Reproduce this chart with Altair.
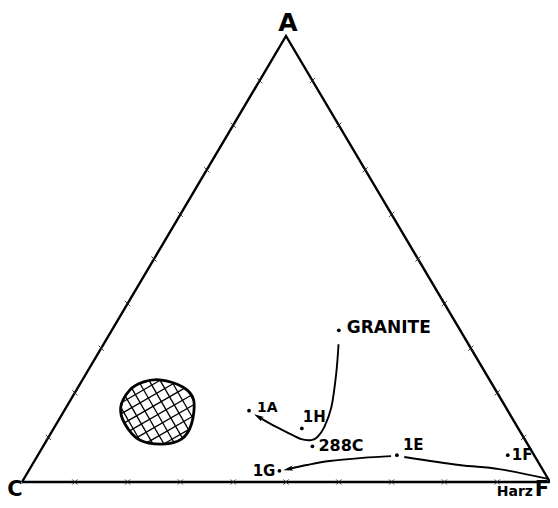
import math
import altair as alt
import pandas as pd

# ---------------- data (ternary percentages: A = apex, C = left, F = right) -------------
point_labels = ["GRANITE", "1A", "1H", "288C", "1E", "1G", "1F"]
point_A = [34.0, 16.0, 12.0, 8.0, 6.0, 2.5, 6.0]
point_C = [23.0, 49.0, 41.0, 41.0, 26.0, 50.0, 5.0]
point_F = [43.0, 35.0, 47.0, 51.0, 68.0, 47.5, 89.0]

# GRANITE -> 288C -> 1A trend (arrow)
curve1_A = [30.9, 24.2, 16.8, 12.3, 10.1, 9.4, 9.6, 11.2, 12.8, 14.6]
curve1_F = [44.5, 47.4, 50.2, 51.1, 50.9, 50.1, 48.1, 44.5, 41.0, 37.5]
# Harz -> 1E
curve2_A = [0.7, 2.9, 3.8, 5.6]
curve2_F = [99.3, 88.9, 80.9, 69.6]
# 1E -> 1G (arrow)
curve3_A = [5.8, 5.4, 4.7, 3.8, 2.9]
curve3_F = [67.0, 61.8, 55.9, 52.0, 49.0]

# hatched field
blob_A = [22.9, 21.3, 18.4, 13.0, 9.6, 8.5, 9.4, 13.0, 16.8, 20.6, 22.4]
blob_F = [14.6, 19.8, 23.3, 25.6, 25.4, 22.4, 17.6, 13.0, 10.3, 10.1, 11.7]

tick_values = [10, 20, 30, 40, 50, 60, 70, 80, 90]
vertex_names = ["A", "C", "F"]
vertex_A = [100.0, 0.0, 0.0]
vertex_F = [0.0, 0.0, 100.0]

# ---------------- layout / style constants -----------------
W, H = 528, 446
FONT = "DejaVu Sans"


def to_xy(a, f):
    return f / 100.0 + a / 200.0, a / 100.0


def frame(As, Fs, extra=None):
    rows = []
    for i, (a, f) in enumerate(zip(As, Fs)):
        x, y = to_xy(a, f)
        r = {"x": x, "y": y, "o": i}
        if extra:
            for k, v in extra.items():
                r[k] = v[i]
        rows.append(r)
    return pd.DataFrame(rows)


xs = alt.Scale(domain=[0, 1], nice=False, zero=False)
ys = alt.Scale(domain=[0, 1], nice=False, zero=False)
X = alt.X("x:Q", scale=xs, axis=None)
Y = alt.Y("y:Q", scale=ys, axis=None)

# triangle outline
tri = frame([vertex_A[1], vertex_A[0], vertex_A[2], vertex_A[1]],
            [vertex_F[1], vertex_F[0], vertex_F[2], vertex_F[1]])
tri_layer = alt.Chart(tri).mark_line(color="black", strokeWidth=2.4, strokeJoin="miter").encode(
    x=X, y=Y, order="o:Q")

# tick marks on the three edges
tA, tF = [], []
for t in tick_values:
    tA += [t, 0.0, t]          # left edge, base, right edge
    tF += [0.0, t, 100.0 - t]
ticks = frame(tA, tF)
tick_layer = alt.Chart(ticks).mark_point(
    shape="M-1,-1L1,1M-1,1L1,-1", size=26, color="#222", strokeWidth=1.0, filled=False,
    opacity=0.85).encode(x=X, y=Y)

# sample points
pts = frame(point_A, point_F, {"label": point_labels})
pt_layer = alt.Chart(pts).mark_circle(color="black", size=14, opacity=1).encode(x=X, y=Y)

label_style = {
    "GRANITE": dict(dx=8, dy=-2, align="left", fontSize=17),
    "1A": dict(dx=8, dy=-3, align="left", fontSize=14),
    "1H": dict(dx=1, dy=-11, align="left", fontSize=15),
    "288C": dict(dx=6, dy=0, align="left", fontSize=16),
    "1E": dict(dx=6, dy=-10, align="left", fontSize=15),
    "1G": dict(dx=-4, dy=0, align="right", fontSize=15),
    "1F": dict(dx=4, dy=0, align="left", fontSize=15),
}
label_layers = []
for lab in point_labels:
    st = label_style[lab]
    label_layers.append(
        alt.Chart(pts[pts["label"] == lab]).mark_text(
            font=FONT, fontWeight="bold", baseline="middle", color="black", **st
        ).encode(x=X, y=Y, text="label:N"))

# vertex labels
verts = frame(vertex_A, vertex_F, {"name": vertex_names})
vstyle = {
    "A": dict(dx=2, dy=-5, align="center", baseline="alphabetic", fontSize=25),
    "C": dict(dx=-7, dy=18, align="center", baseline="bottom", fontSize=21),
    "F": dict(dx=-1, dy=18, align="right", baseline="bottom", fontSize=21),
}
vertex_layers = []
for n in vertex_names:
    vertex_layers.append(
        alt.Chart(verts[verts["name"] == n]).mark_text(
            font=FONT, fontWeight="bold", color="black", **vstyle[n]
        ).encode(x=X, y=Y, text="name:N"))

# "Harz" label at F corner
harz = frame([vertex_A[2]], [vertex_F[2]], {"t": ["Harz"]})
harz_layer = alt.Chart(harz).mark_text(
    font=FONT, fontWeight="bold", fontSize=14, align="right", baseline="bottom",
    dx=-17, dy=17, color="black").encode(x=X, y=Y, text="t:N")

# trend curves
c1 = frame(curve1_A, curve1_F)
c2 = frame(curve2_A, curve2_F)
c3 = frame(curve3_A, curve3_F)
curve_layers = [
    alt.Chart(c).mark_line(color="black", strokeWidth=1.9, interpolate="cardinal").encode(
        x=X, y=Y, order="o:Q")
    for c in (c1, c2, c3)
]


# arrowheads oriented along the last segment (screen angle, clockwise from up)
def head_angle(As, Fs):
    x0, y0 = to_xy(As[-2], Fs[-2])
    x1, y1 = to_xy(As[-1], Fs[-1])
    dx = (x1 - x0) * W
    dy = -(y1 - y0) * H
    return (math.degrees(math.atan2(dx, -dy)) + 360) % 360


heads = []
for As, Fs in ((curve1_A, curve1_F), (curve3_A, curve3_F)):
    d = frame([As[-1]], [Fs[-1]])
    heads.append(alt.Chart(d).mark_point(
        shape="M0,-1L0.5,0.9L0,0.5L-0.5,0.9Z", size=110, filled=True, color="black",
        opacity=1, angle=head_angle(As, Fs)).encode(x=X, y=Y))

# hatched field: outline + cross hatching clipped to its (Catmull-Rom) outline
blob = frame(blob_A, blob_F)
blob_outline = alt.Chart(blob).mark_line(
    color="black", strokeWidth=2.8, interpolate="cardinal-closed").encode(x=X, y=Y, order="o:Q")

bp = [(x * W, y * H) for x, y in zip(blob["x"], blob["y"])]
n = len(bp)
dense = []
for i in range(n):
    p0, p1, p2, p3 = bp[i - 1], bp[i], bp[(i + 1) % n], bp[(i + 2) % n]
    for k in range(12):
        t = k / 12
        t2, t3 = t * t, t * t * t
        dense.append(tuple(
            0.5 * ((2 * p1[j]) + (-p0[j] + p2[j]) * t + (2 * p0[j] - 5 * p1[j] + 4 * p2[j] - p3[j]) * t2
                   + (-p0[j] + 3 * p1[j] - 3 * p2[j] + p3[j]) * t3) for j in range(2)))

hatch_rows = []
spacing = 9.5
for ang in (30.0, -60.0):
    r = math.radians(ang)
    d = (math.cos(r), math.sin(r))
    nrm = (-d[1], d[0])
    proj = [p[0] * nrm[0] + p[1] * nrm[1] for p in dense]
    lo, hi = min(proj), max(proj)
    c = lo + spacing * 0.5
    while c < hi:
        ts = []
        m = len(dense)
        for i in range(m):
            a, b = dense[i], dense[(i + 1) % m]
            pa = a[0] * nrm[0] + a[1] * nrm[1] - c
            pb = b[0] * nrm[0] + b[1] * nrm[1] - c
            if (pa <= 0 < pb) or (pb <= 0 < pa):
                s = pa / (pa - pb)
                q = (a[0] + s * (b[0] - a[0]), a[1] + s * (b[1] - a[1]))
                ts.append(q[0] * d[0] + q[1] * d[1])
        if len(ts) >= 2:
            t0, t1 = min(ts), max(ts)
            base = (c * nrm[0], c * nrm[1])
            hatch_rows.append({
                "x": (base[0] + t0 * d[0]) / W, "y": (base[1] + t0 * d[1]) / H,
                "x2": (base[0] + t1 * d[0]) / W, "y2": (base[1] + t1 * d[1]) / H,
            })
        c += spacing
hatch = pd.DataFrame(hatch_rows)
hatch_layer = alt.Chart(hatch).mark_rule(color="black", strokeWidth=1.3).encode(
    x=X, y=Y, x2="x2:Q", y2="y2:Q")

chart = alt.layer(
    tri_layer, tick_layer, hatch_layer, blob_outline, *curve_layers, *heads, pt_layer,
    *label_layers, *vertex_layers, harz_layer,
).properties(
    width=W, height=H,
    autosize=alt.AutoSizeParams(type="none"),
    padding={"left": 14, "top": 28, "right": 0, "bottom": 18},
    background="white",
).configure_view(stroke=None, strokeWidth=0)

chart.save("out.html", embed_options={"renderer": "svg", "actions": False})
